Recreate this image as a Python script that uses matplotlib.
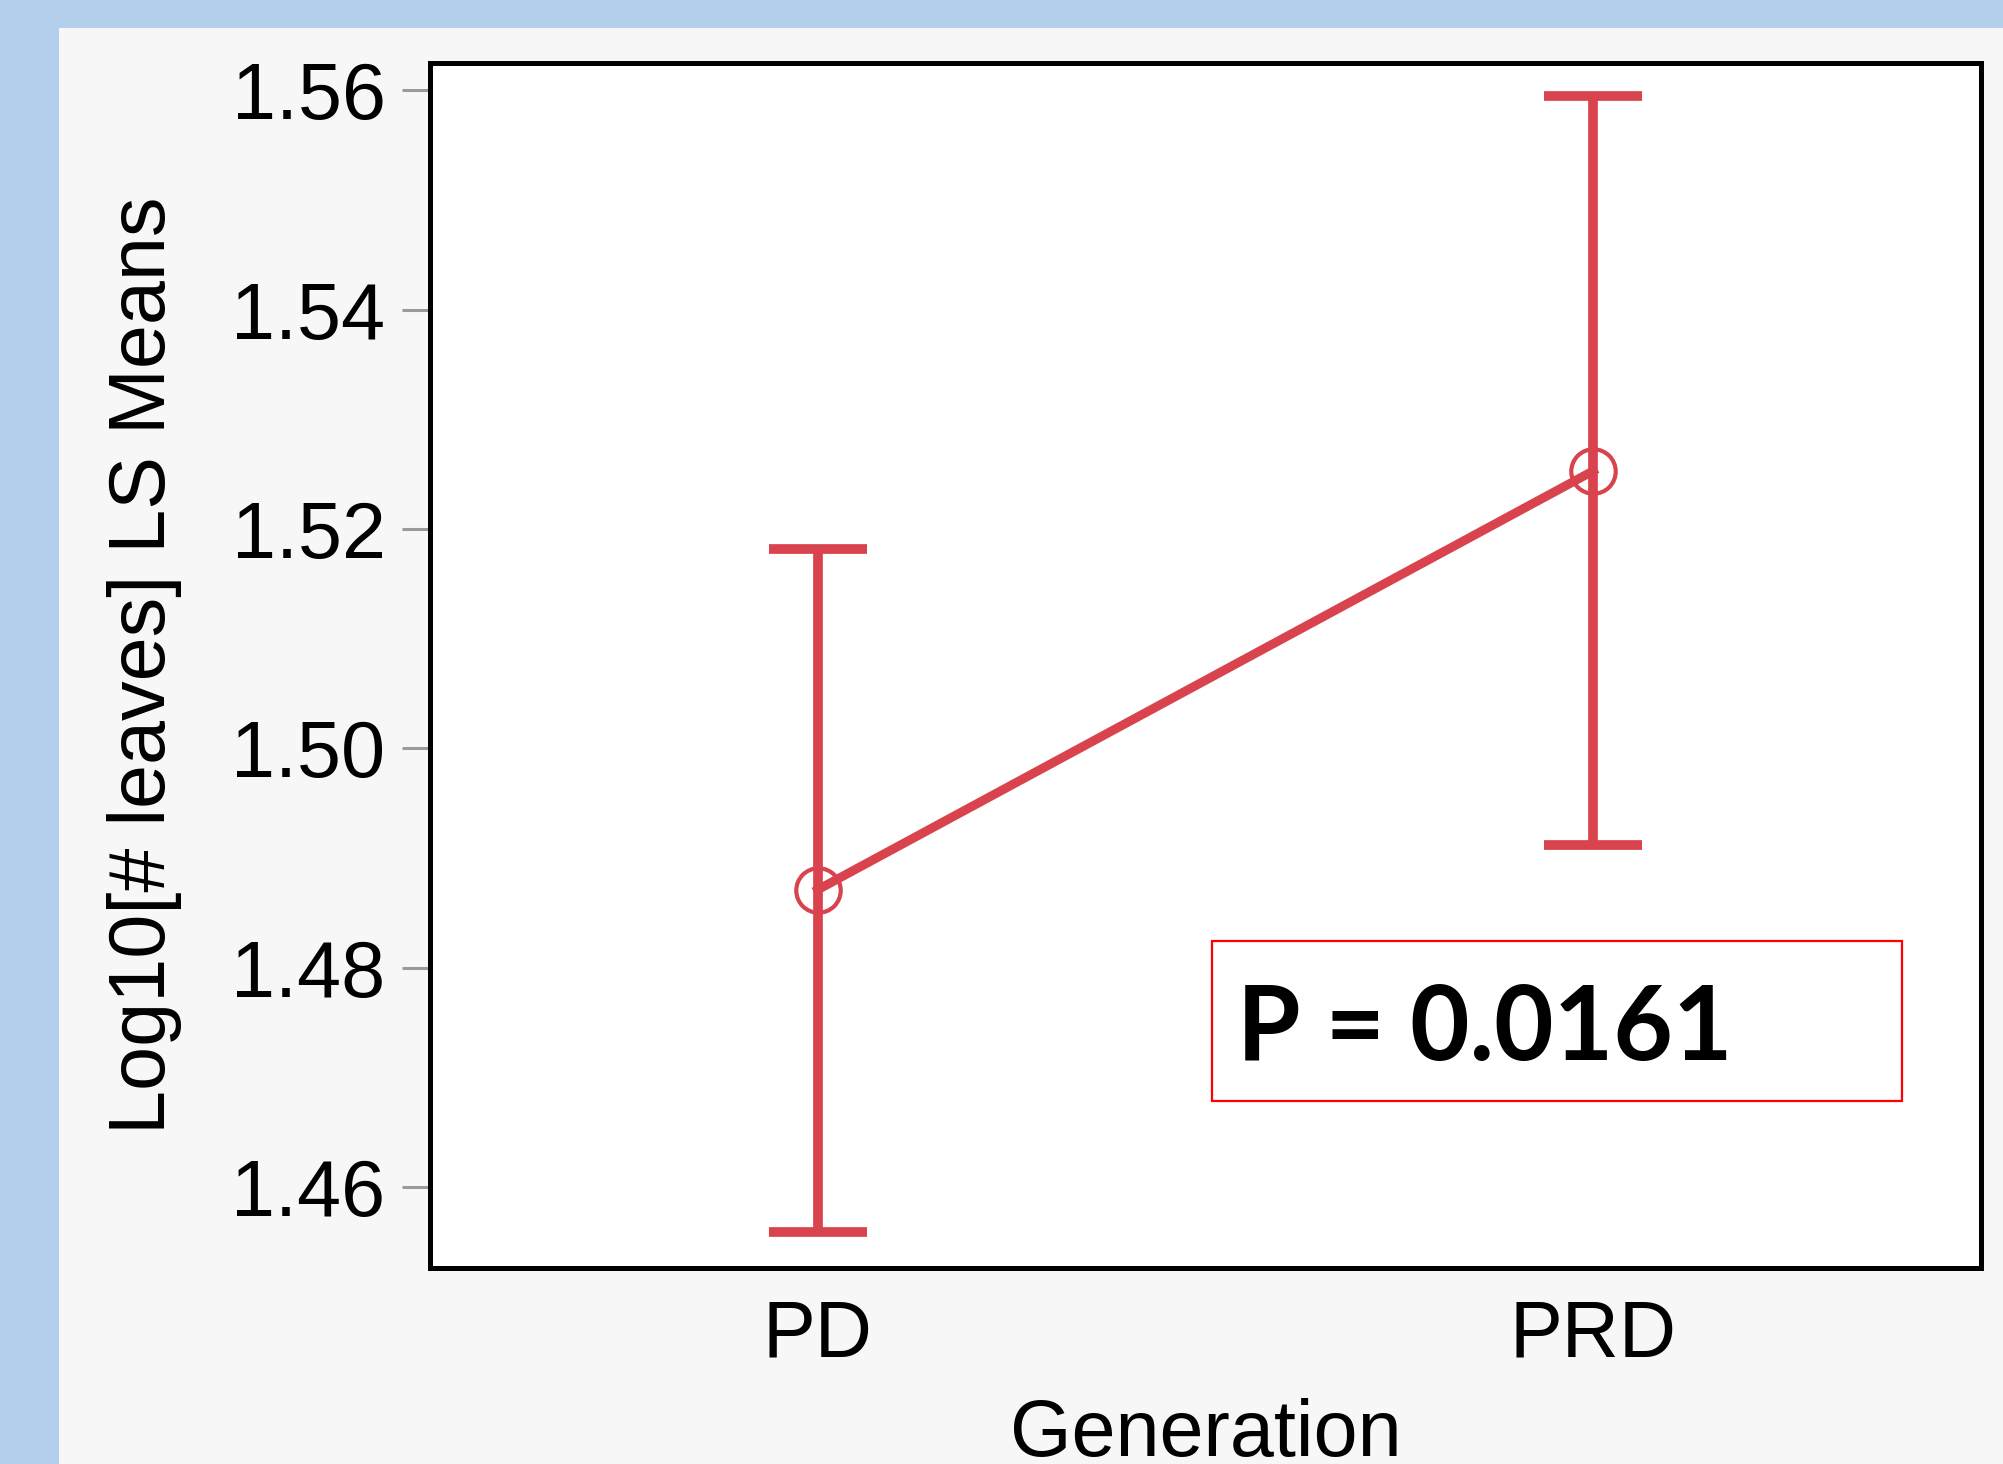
import numpy as np
import matplotlib
matplotlib.use('Agg')
import matplotlib.pyplot as plt
from matplotlib.patches import Rectangle

# ============================================
# DATOS
# ============================================
generaciones = ['PD', 'PRD']
medias = [1.4871, 1.5253]
limite_inf = [1.4559, 1.4912]
limite_sup = [1.5182, 1.5595]
y_ticks = [1.46, 1.48, 1.50, 1.52, 1.54, 1.56]
texto_p = 'P = 0.0161'

# ============================================
# ESTILO
# ============================================
plt.rcParams['font.family'] = ['Liberation Sans', 'DejaVu Sans']
rojo = '#d9434e'
azul = '#b2cfec'
fondo = '#f7f7f7'

W, H = 2003, 1464
fig = plt.figure(figsize=(W / 100, H / 100), dpi=100)
fig.patch.set_facecolor(azul)

# panel gris claro (todo menos el borde azul)
fig.add_artist(Rectangle((59 / W, 0), 1 - 59 / W, 1 - 28 / H,
                         transform=fig.transFigure, facecolor=fondo,
                         edgecolor='none', zorder=0))

ax = fig.add_axes([430 / W, (H - 1268) / H, 1551 / W, 1205 / H])
ax.set_facecolor('white')

x = np.arange(len(generaciones))
medias_arr = np.array(medias)
yerr = [medias_arr - np.array(limite_inf), np.array(limite_sup) - medias_arr]

ax.errorbar(x, medias_arr, yerr=yerr, fmt='none', ecolor=rojo,
            elinewidth=7, capsize=35, capthick=7, zorder=2)
ax.plot(x, medias_arr, color=rojo, linewidth=6.5, marker='o',
        markersize=32, markerfacecolor='none', markeredgecolor=rojo,
        markeredgewidth=3, zorder=3)

ax.set_xlim(-0.5, 1.5)
ax.set_ylim(1.4526, 1.5625)
ax.set_xticks(x)
ax.set_xticklabels(generaciones)
ax.set_yticks(y_ticks)
ax.set_yticklabels([f'{v:.2f}' for v in y_ticks])

ax.tick_params(axis='y', colors='#9a9a9a', length=20, width=2.2, pad=12,
               labelsize=57, labelcolor='black')
ax.tick_params(axis='x', length=0, pad=22, labelsize=57, labelcolor='black')

for s in ax.spines.values():
    s.set_linewidth(3.6)
    s.set_color('black')

ax.set_ylabel('Log10[# leaves] LS Means', fontsize=57)
ax.yaxis.set_label_coords(-0.160, 0.5)
ax.set_xlabel('Generation', fontsize=57)
ax.xaxis.set_label_coords(0.5, -0.108)

# caja con el valor P
fig.add_artist(Rectangle((1212 / W, (H - 1101) / H), 690 / W, 160 / H,
                         transform=fig.transFigure, facecolor='none',
                         edgecolor='#ff0000', linewidth=1.6, zorder=5))
fig.text(1237 / W, (H - 1060) / H, texto_p, fontsize=74,
         fontweight='bold', family=['Lato', 'DejaVu Sans'],
         ha='left', va='baseline', color='black', zorder=6)

plt.savefig('out.png', dpi=100, facecolor=fig.get_facecolor())
plt.close()
